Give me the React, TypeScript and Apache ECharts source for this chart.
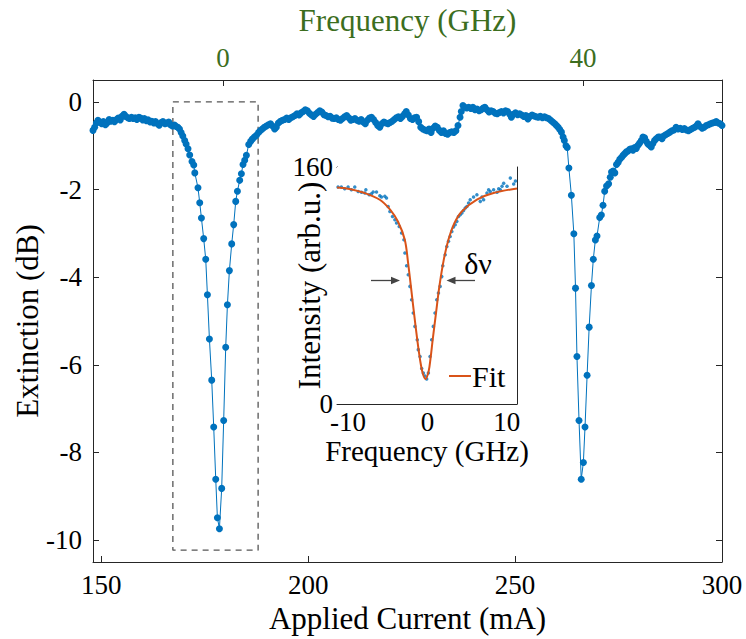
import React, { useEffect, useRef } from "react";
import * as echarts from "echarts";

const FONT = "Liberation Serif";
const BLUE = "#0072BD";
const ORANGE = "#D95319";
const GREEN = "#3c6e1e";
const AXIS = "#262626";

// ---- main plot: extinction (dB) vs applied current (mA) ----
const baselineLeft: [number, number][] = [
  [148.0, -0.65], [148.4, -0.58], [148.8, -0.48], [149.2, -0.42], [149.7, -0.47], [150.1, -0.5],
  [150.5, -0.45], [151.0, -0.52], [151.4, -0.48], [151.9, -0.4], [152.3, -0.44], [152.8, -0.42],
  [153.2, -0.45], [153.7, -0.4], [154.1, -0.37], [154.6, -0.41], [155.0, -0.33], [155.5, -0.28],
  [155.9, -0.33], [156.4, -0.36], [156.8, -0.38], [157.3, -0.35], [157.7, -0.38], [158.2, -0.36],
  [158.6, -0.4], [159.1, -0.35], [159.5, -0.37], [160.0, -0.41], [160.4, -0.38], [160.9, -0.43],
  [161.3, -0.41], [161.8, -0.46], [162.2, -0.44], [162.7, -0.48], [163.1, -0.45], [163.6, -0.5],
  [164.0, -0.53], [164.5, -0.47], [164.9, -0.45], [165.4, -0.5], [165.8, -0.48], [166.3, -0.46],
  [166.7, -0.52], [167.2, -0.55], [167.7, -0.53], [168.1, -0.56], [168.5, -0.58], [168.9, -0.62],
  [169.3, -0.7], [169.7, -0.78],
];

const dipOne: [number, number][] = [
  [170.16, -0.88], [170.5, -0.96], [170.96, -1.07], [171.37, -1.21], [171.92, -1.36], [172.35, -1.44],
  [172.6, -1.62], [173.37, -1.96], [173.79, -2.3], [174.2, -2.65], [174.75, -3.12], [175.24, -3.59],
  [175.65, -4.4], [176.13, -5.41], [176.69, -6.35], [177.17, -7.42], [177.66, -8.61], [178.06, -9.49],
  [178.55, -9.74], [179.1, -8.82], [179.58, -7.27], [180.07, -5.6], [180.48, -4.63], [180.96, -3.85],
  [181.52, -3.24], [182.0, -2.8], [182.49, -2.27], [182.9, -2.04], [183.45, -1.79], [183.86, -1.64],
  [184.25, -1.43], [184.66, -1.33], [185.07, -1.22], [185.63, -0.97],
];

const middle: [number, number][] = [
  [186.1, -0.9], [186.5, -0.85], [187.0, -0.8], [187.5, -0.76], [188.0, -0.7], [188.4, -0.66],
  [188.9, -0.62], [189.4, -0.58], [189.9, -0.55], [190.4, -0.52], [190.9, -0.5], [191.4, -0.55],
  [191.9, -0.62], [192.3, -0.58], [192.8, -0.48], [193.3, -0.44], [193.8, -0.42], [194.3, -0.4],
  [194.8, -0.37], [195.3, -0.4], [195.8, -0.36], [196.3, -0.34], [196.8, -0.31], [197.3, -0.27],
  [197.8, -0.3], [198.3, -0.25], [198.8, -0.22], [199.3, -0.18], [199.8, -0.2], [200.3, -0.26],
  [200.8, -0.3], [201.3, -0.33], [201.8, -0.28], [202.3, -0.24], [202.8, -0.2], [203.3, -0.23],
  [203.8, -0.29], [204.3, -0.31], [204.8, -0.34], [205.3, -0.33], [205.8, -0.37], [206.3, -0.38],
  [206.8, -0.36], [207.3, -0.4], [207.8, -0.42], [208.3, -0.38], [208.8, -0.34], [209.3, -0.31],
  [209.8, -0.36], [210.3, -0.42], [210.8, -0.4], [211.3, -0.38], [211.8, -0.42], [212.3, -0.44],
  [212.8, -0.4], [213.3, -0.46], [213.8, -0.5], [214.3, -0.42], [214.8, -0.37], [215.3, -0.35],
  [215.8, -0.4], [216.3, -0.47], [216.8, -0.54], [217.3, -0.58], [217.8, -0.5], [218.3, -0.46],
  [218.8, -0.48], [219.3, -0.5], [219.8, -0.47], [220.3, -0.44], [220.8, -0.4], [221.3, -0.36],
  [221.8, -0.34], [222.3, -0.38], [222.8, -0.33], [223.3, -0.27], [223.7, -0.22], [224.2, -0.3],
  [224.7, -0.38], [225.2, -0.4], [225.7, -0.36], [226.2, -0.35], [226.7, -0.45], [227.2, -0.58],
  [227.7, -0.62], [228.2, -0.64], [228.7, -0.66], [229.2, -0.62], [229.7, -0.7], [230.2, -0.6],
  [230.7, -0.55], [231.2, -0.58], [231.7, -0.65], [232.2, -0.7], [232.7, -0.66], [233.2, -0.72],
  [233.7, -0.74], [234.2, -0.7], [234.7, -0.68], [235.2, -0.7], [235.7, -0.66], [236.2, -0.54],
  [236.7, -0.35], [237.0, -0.22], [237.4, -0.08], [237.8, -0.12], [238.3, -0.14], [238.8, -0.12],
  [239.3, -0.15], [239.8, -0.12], [240.3, -0.18], [240.8, -0.16], [241.3, -0.2], [241.8, -0.18],
  [242.3, -0.14], [242.7, -0.12], [243.2, -0.18], [243.7, -0.23], [244.2, -0.2], [244.7, -0.22],
  [245.2, -0.26], [245.7, -0.27], [246.2, -0.24], [246.7, -0.22], [247.2, -0.25], [247.7, -0.2],
  [248.2, -0.22], [248.7, -0.28], [249.1, -0.35], [249.6, -0.28], [250.1, -0.25], [250.6, -0.29],
  [251.1, -0.27], [251.6, -0.3], [252.1, -0.33], [252.6, -0.31], [253.1, -0.39], [253.6, -0.33],
  [254.1, -0.3], [254.6, -0.32], [255.1, -0.34], [255.6, -0.35], [256.1, -0.33], [256.6, -0.36],
  [257.1, -0.34], [257.6, -0.36], [258.1, -0.38], [258.6, -0.42], [259.1, -0.46], [259.6, -0.5],
  [260.0, -0.54], [260.4, -0.58], [260.8, -0.63], [261.2, -0.69], [261.6, -0.8], [261.9, -0.88],
  [262.3, -1.0], [262.6, -1.04],
];

const dipTwo: [number, number][] = [
  [263.0, -1.51], [263.6, -2.13], [264.2, -3.01], [264.6, -4.25], [264.95, -5.81], [265.45, -7.27],
  [265.98, -8.61], [266.5, -8.23], [266.9, -7.42], [267.4, -6.24], [267.9, -5.14], [268.45, -4.19],
  [268.9, -3.59], [269.4, -3.15], [269.8, -3.06], [270.45, -2.64], [270.85, -2.58], [271.25, -2.36],
  [271.65, -2.04], [272.1, -1.92], [272.6, -1.87], [273.0, -1.72], [273.3, -1.6], [273.7, -1.58],
  [274.1, -1.62], [274.5, -1.43], [274.9, -1.38], [275.3, -1.31], [275.7, -1.27], [276.1, -1.22],
  [276.5, -1.18], [276.9, -1.14], [277.3, -1.12], [277.7, -1.08], [278.1, -1.07], [278.5, -1.1],
  [278.9, -1.04], [279.3, -1.06], [279.7, -0.99], [280.1, -0.94], [280.5, -0.88],
];

const baselineRight: [number, number][] = [
  [280.9, -0.8], [281.3, -0.82], [281.7, -0.9], [282.1, -0.96], [282.5, -0.99], [282.9, -1.03],
  [283.3, -0.95], [283.7, -0.88], [284.1, -0.84], [284.6, -0.8], [285.0, -0.8], [285.5, -0.84],
  [285.9, -0.78], [286.4, -0.75], [286.9, -0.72], [287.4, -0.69], [287.9, -0.66], [288.4, -0.64],
  [288.9, -0.58], [289.4, -0.62], [289.9, -0.6], [290.4, -0.63], [290.9, -0.61], [291.4, -0.64],
  [291.9, -0.66], [292.4, -0.63], [292.9, -0.6], [293.4, -0.58], [293.8, -0.55], [294.2, -0.5],
  [294.7, -0.56], [295.2, -0.6], [295.7, -0.58], [296.2, -0.54], [296.7, -0.52], [297.2, -0.5],
  [297.7, -0.48], [298.2, -0.47], [298.6, -0.45], [299.1, -0.48], [299.6, -0.5], [300.0, -0.54],
];

const mainData = [...baselineLeft, ...dipOne, ...middle, ...dipTwo, ...baselineRight];

// dashed box around first resonance (current mA, extinction dB)
const boxCurrent = [167.3, 187.9];
const boxExtinction = [0, -10.23];

const currentTicks = [150, 200, 250, 300];
const extinctionTicks = [-10, -8, -6, -4, -2, 0];
const freqTopTicks = [0, 40];

// ---- inset: intensity vs frequency ----
const insetFreq = [
  -11.27, -10.85, -10.43, -10.0, -9.58, -9.16, -8.73, -8.31, -7.89, -7.76, -7.34, -7.05, -6.84, -6.42,
  -6.0, -5.79, -5.37, -5.16, -4.95, -4.73, -4.4, -4.1, -3.89, -3.55, -3.26, -2.96, -2.84, -2.62, -2.41,
  -2.2, -1.99, -1.78, -1.57, -1.28, -1.15, -0.93, -0.72, -0.51, -0.3, -0.09, 0.12, 0.33, 0.54, 0.75,
  0.96, 1.18, 1.39, 1.6, 1.81, 1.94, 2.24, 2.45, 2.66, 2.87, 3.08, 3.29, 3.5, 3.71, 3.92, 4.14, 4.35,
  4.56, 4.77, 4.98, 5.19, 5.4, 5.82, 6.24, 6.67, 6.88, 7.09, 7.51, 7.72, 7.93, 8.35, 8.78, 8.99, 9.2,
  9.41, 9.62, 10.04, 10.46, 10.88, 11.1,
];
const insetIntensity = [
  146.5, 146.5, 145.3, 146.5, 144.7, 146.5, 143.5, 142.9, 142.4, 144.7, 141.3, 142.0, 143.1, 143.1,
  140.6, 139.7, 140.2, 139.1, 133.4, 130.0, 126.6, 124.4, 122.2, 119.9, 115.4, 110.9, 101.9, 93.4, 87.3,
  79.4, 70.4, 61.4, 52.4, 43.4, 36.7, 32.1, 24.0, 20.9, 18.9, 16.9, 20.9, 32.1, 43.4, 52.4,
  61.4, 70.4, 75.0, 79.4, 86.0, 93.4, 100.8, 106.4, 109.8, 113.1, 116.5, 119.5, 121.0, 123.3, 126.6, 127.8, 128.9,
  130.7, 132.3, 133.4, 135.7, 137.9, 139.7, 141.3, 136.8, 139.7, 137.9, 142.4, 144.7, 143.5, 144.7, 142.9, 145.3, 144.7,
  147.0, 149.0, 147.0, 152.5, 148.5, 150.5,
];

const fitFreq = [
  -11.4, -10.0, -7.9, -6.0, -4.7, -3.7, -2.85, -2.45, -2.08, -1.68, -1.28, -0.9, -0.6, -0.25, 0.15,
  0.4, 0.67, 1.1, 1.51, 2.05, 2.65, 3.4, 4.34, 6.24, 8.35, 11.3,
];
const fitIntensity = [
  146.2, 145.3, 142.4, 137.9, 131.2, 123.0, 110.9, 96.0, 79.4, 61.0, 43.4, 29.0, 20.9, 16.9, 22.0,
  31.0, 43.4, 62.0, 79.4, 97.0, 110.9, 122.0, 130.0, 137.9, 142.4, 145.5,
];

const insetFreqTicks = [-10, 0, 10];
const insetIntensityTicks = [0, 20, 40, 60, 80, 100, 120, 140, 160];
const insetIntensityLabels = [0, 160];

export default function App() {
  const ref = useRef<HTMLDivElement>(null);

  useEffect(() => {
    if (!ref.current) return;
    const chart = echarts.init(ref.current, null, { renderer: "svg" });

    const line = { show: true, onZero: false, lineStyle: { color: AXIS, width: 1 } };
    const tickStyle = { color: AXIS, width: 1 };
    const labelBase = { fontFamily: FONT, fontSize: 27, color: "#000" };
    const nameBase = { fontFamily: FONT, fontSize: 31, color: "#000" };

    const boxData = [
      [boxCurrent[0], boxExtinction[0]],
      [boxCurrent[1], boxExtinction[0]],
      [boxCurrent[1], boxExtinction[1]],
      [boxCurrent[0], boxExtinction[1]],
      [boxCurrent[0], boxExtinction[0]],
    ];

    const option: any = {
      animation: false,
      backgroundColor: "#fff",
      textStyle: { fontFamily: FONT },
      grid: [
        { left: 93, top: 77, width: 629, height: 485 },
        { left: 337, top: 167, width: 180, height: 237, show: true, backgroundColor: "#fff", borderWidth: 0, z: 5 },
      ],
      legend: {
        data: ["Fit"],
        left: 444,
        top: 356,
        icon: "rect",
        itemWidth: 22,
        itemHeight: 2,
        itemGap: 0,
        textStyle: { fontFamily: FONT, fontSize: 30, color: "#000", padding: [0, 0, 0, -4] },
        z: 10,
      },
      xAxis: [
        {
          type: "value", gridIndex: 0, min: 148, max: 300, position: "bottom",
          axisLine: line,
          axisTick: { show: true, inside: true, length: 6, customValues: currentTicks, lineStyle: tickStyle },
          axisLabel: { ...labelBase, customValues: currentTicks, margin: 9 },
          splitLine: { show: false },
          name: "Applied Current (mA)", nameLocation: "middle", nameGap: 41, nameMoveOverlap: false,
          nameTextStyle: nameBase,
        },
        {
          type: "value", gridIndex: 0, min: -14.45, max: 55.45, position: "top",
          axisLine: line,
          axisTick: { show: true, inside: true, length: 6, customValues: freqTopTicks, lineStyle: tickStyle },
          axisLabel: { ...labelBase, color: GREEN, customValues: freqTopTicks, margin: 9 },
          splitLine: { show: false },
          name: "Frequency (GHz)", nameLocation: "middle", nameGap: 44, nameMoveOverlap: false,
          nameTextStyle: { ...nameBase, color: GREEN },
        },
        {
          type: "value", gridIndex: 1, min: -11.4, max: 11.3, position: "bottom",
          axisLine: line,
          axisTick: { show: true, inside: true, length: 5, customValues: insetFreqTicks, lineStyle: tickStyle },
          axisLabel: { ...labelBase, customValues: insetFreqTicks, margin: 4 },
          splitLine: { show: false },
          name: "Frequency (GHz)", nameLocation: "middle", nameGap: 32, nameMoveOverlap: false,
          nameTextStyle: { ...nameBase, fontSize: 29 },
        },
        {
          type: "value", gridIndex: 1, min: -11.4, max: 11.3, position: "top",
          axisLine: line,
          axisTick: { show: true, inside: true, length: 5, customValues: insetFreqTicks, lineStyle: tickStyle },
          axisLabel: { show: false },
          splitLine: { show: false },
        },
      ],
      yAxis: [
        {
          type: "value", gridIndex: 0, min: -10.5, max: 0.5, position: "left",
          axisLine: line,
          axisTick: { show: true, inside: true, length: 6, customValues: extinctionTicks, lineStyle: tickStyle },
          axisLabel: { ...labelBase, customValues: extinctionTicks, margin: 11 },
          splitLine: { show: false },
          name: "Extinction (dB)", nameLocation: "middle", nameGap: 50, nameMoveOverlap: false,
          nameTextStyle: nameBase,
        },
        {
          type: "value", gridIndex: 0, min: -10.5, max: 0.5, position: "right",
          axisLine: line,
          axisTick: { show: true, inside: true, length: 6, customValues: extinctionTicks, lineStyle: tickStyle },
          axisLabel: { show: false },
          splitLine: { show: false },
        },
        {
          type: "value", gridIndex: 1, min: 0, max: 160, position: "left",
          axisLine: line,
          axisTick: { show: false },
          axisLabel: { ...labelBase, customValues: insetIntensityLabels, margin: 4 },
          splitLine: { show: false },
          name: "Intensity (arb.u.)", nameLocation: "middle", nameGap: 12, nameMoveOverlap: false,
          nameTextStyle: nameBase,
        },
        {
          type: "value", gridIndex: 1, min: 0, max: 160, position: "right",
          axisLine: line,
          axisTick: { show: true, inside: true, length: 5, customValues: insetIntensityTicks, lineStyle: tickStyle },
          axisLabel: { show: false },
          splitLine: { show: false },
        },
      ],
      series: [
        {
          type: "line", xAxisIndex: 0, yAxisIndex: 0, data: boxData, symbol: "none", silent: true,
          lineStyle: { color: "#555", width: 1.3, type: [6, 5] }, z: 1,
        },
        {
          type: "line", name: "Extinction", xAxisIndex: 0, yAxisIndex: 0, data: mainData,
          symbol: "circle", symbolSize: 7, showAllSymbol: true,
          itemStyle: { color: BLUE }, lineStyle: { color: BLUE, width: 1 }, z: 3,
        },
        {
          type: "scatter", name: "Data", xAxisIndex: 2, yAxisIndex: 2,
          data: insetFreq.map((f, i) => [f, insetIntensity[i]]),
          symbol: "circle", symbolSize: 3.5, itemStyle: { color: BLUE }, z: 6,
        },
        {
          type: "line", name: "Fit", xAxisIndex: 2, yAxisIndex: 2,
          data: fitFreq.map((f, i) => [f, fitIntensity[i]]),
          symbol: "none", smooth: 0.35, lineStyle: { color: ORANGE, width: 2 }, itemStyle: { color: ORANGE }, z: 7,
        },
      ],
      graphic: [
        { type: "line", z: 100, shape: { x1: 371, y1: 280.5, x2: 394, y2: 280.5 }, style: { stroke: "#444", lineWidth: 1.3 } },
        { type: "polygon", z: 100, shape: { points: [[400, 280.5], [391, 276.8], [391, 284.2]] }, style: { fill: "#444" } },
        { type: "line", z: 100, shape: { x1: 475, y1: 280.5, x2: 452, y2: 280.5 }, style: { stroke: "#444", lineWidth: 1.3 } },
        { type: "polygon", z: 100, shape: { points: [[446.5, 280.5], [455.5, 276.8], [455.5, 284.2]] }, style: { fill: "#444" } },
        {
          type: "text", z: 100, x: 478, y: 263,
          style: { text: "δν", fontFamily: FONT, fontSize: 30, fill: "#000", align: "center", verticalAlign: "middle" },
        },
      ],
    };

    chart.setOption(option);
    return () => chart.dispose();
  }, []);

  return <div ref={ref} style={{ position: "fixed", left: 0, top: 0, width: 746, height: 639 }} />;
}
